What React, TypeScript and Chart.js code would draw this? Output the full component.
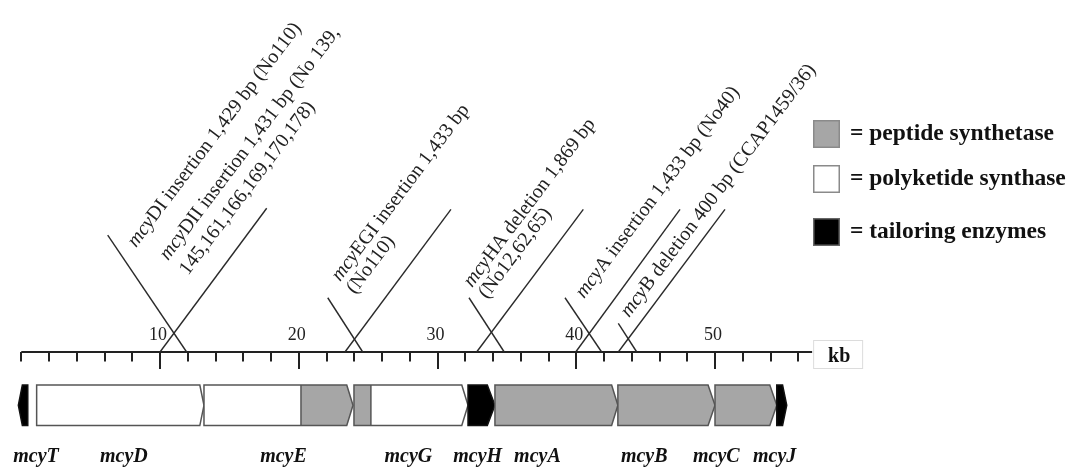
import React, { useEffect, useRef } from 'react';
import { Chart, registerables } from 'chart.js';

Chart.register(...registerables);

// ---------- data ----------
const tickValues = [0, 2, 4, 6, 8, 10, 12, 14, 16, 18, 20, 22, 24, 26, 28, 30, 32, 34, 36, 38, 40, 42, 44, 46, 48, 50, 52, 54, 56];
const majorTickValues = [10, 20, 30, 40, 50];
const majorTickLabels = ['10', '20', '30', '40', '50'];
const axisEndKb = 57;
const axisUnit = 'kb';

const geneNames = ['mcyT', 'mcyD', 'mcyE', 'mcyG', 'mcyH', 'mcyA', 'mcyB', 'mcyC', 'mcyJ'];
const geneStarts = [-0.21, 1.11, 13.17, 23.98, 32.2, 34.14, 43.0, 50.0, 54.45];
const geneEnds = [0.47, 13.17, 23.91, 32.2, 34.14, 43.0, 50.0, 54.45, 55.17];
const geneDirections = [-1, 1, 1, 1, 1, 1, 1, 1, 1];
const geneHeads = [0.29, 0.3, 0.45, 0.45, 0.55, 0.45, 0.5, 0.5, 0.3];
const geneFirstClass = ['tailoring', 'pks', 'pks', 'nrps', 'tailoring', 'nrps', 'nrps', 'nrps', 'tailoring'];
const geneSecondClass = ['tailoring', 'pks', 'nrps', 'pks', 'tailoring', 'nrps', 'nrps', 'nrps', 'tailoring'];
const geneSplits = [null, null, 20.16, 25.2, null, null, null, null, null];
const geneLabelKb = [1.06, 7.4, 18.9, 27.9, 32.9, 37.2, 44.9, 50.1, 54.3];

const legendClasses = ['nrps', 'pks', 'tailoring'];
const legendLabels = ['= peptide synthetase', '= polyketide synthase', '= tailoring enzymes'];

// marker lines: base on the axis (kb), tip (kb, height)
const markerBaseKb = [11.92, 10.0, 24.61, 23.33, 34.81, 32.82, 41.83, 39.96, 44.36, 43.03];
const markerTipKb = [6.23, 17.69, 22.09, 30.97, 32.27, 40.51, 39.19, 47.48, 43.03, 50.72];
const markerTipHeight = [8.43, 10.36, 3.91, 10.28, 3.91, 10.28, 3.91, 10.28, 2.07, 10.28];

// annotation text lines: italic prefix, roman rest, baseline start (kb, height)
const noteItalic = ['mcy', 'mcy', '', 'mcy', '', 'mcy', '', 'mcy', 'mcy'];
const noteRoman = [
  'DI insertion 1,429 bp (No110)',
  'DII insertion 1,431 bp (No 139,',
  '145,161,166,169,170,178)',
  'EGI insertion 1,433 bp',
  '(No110)',
  'HA deletion 1,869 bp',
  '(No12,62,65)',
  'A insertion 1,433 bp (No40)',
  'B deletion 400 bp (CCAP1459/36)',
];
const noteKb = [8.27, 10.58, 12.02, 22.97, 24.05, 32.49, 33.57, 40.56, 43.8];
const noteHeight = [7.5, 6.56, 5.48, 5.05, 4.13, 4.61, 3.78, 3.82, 2.45];

// ---------- styles / layout ----------
const FONT = '"Liberation Serif", "Times New Roman", serif';
const PX_PER_KB = 13.875;
const AXIS_X0 = 21.25;
const AXIS_Y = 352;
const W = 1068;
const H = 468;
const GENE_TOP = -2.38;
const GENE_BOTTOM = -5.3;
const GENE_LABEL_Y = -7.93;
const classFill: Record<string, string> = { nrps: '#a6a6a6', pks: '#ffffff', tailoring: '#000000' };
const classStroke: Record<string, string> = { nrps: '#555555', pks: '#555555', tailoring: '#111111' };
const NOTE_ANGLE = -53 * Math.PI / 180;

const diagramPlugin = {
  id: 'geneDiagram',
  afterDatasetsDraw(chart: any) {
    const ctx: CanvasRenderingContext2D = chart.ctx;
    const xs = chart.scales.x;
    const ys = chart.scales.y;
    const X = (v: number) => xs.getPixelForValue(v);
    const Y = (v: number) => ys.getPixelForValue(v);
    ctx.save();

    // ticks
    const y0 = Y(0);
    ctx.strokeStyle = '#222';
    ctx.lineWidth = 2;
    tickValues.forEach((t) => {
      const major = majorTickValues.includes(t);
      const px = Math.round(X(t));
      ctx.beginPath();
      ctx.moveTo(px, y0);
      ctx.lineTo(px, y0 + (major ? 17 : 9.5));
      ctx.stroke();
    });
    // tick labels
    ctx.fillStyle = '#222';
    ctx.font = `18px ${FONT}`;
    ctx.textAlign = 'center';
    ctx.textBaseline = 'alphabetic';
    majorTickValues.forEach((t, i) => {
      ctx.fillText(majorTickLabels[i], X(t) - 2, y0 - 12);
    });

    // kb box
    const bx = X(axisEndKb) + 1;
    ctx.strokeStyle = '#dcdcdc';
    ctx.lineWidth = 1;
    ctx.strokeRect(bx + 0.5, y0 - 11.5, 49, 28);
    ctx.fillStyle = '#111';
    ctx.font = `bold 20px ${FONT}`;
    ctx.fillText(axisUnit, bx + 26, y0 + 10);

    // genes
    const top = Y(GENE_TOP);
    const bot = Y(GENE_BOTTOM);
    const mid = (top + bot) / 2;
    geneNames.forEach((name, i) => {
      const s = X(geneStarts[i]);
      const e = X(geneEnds[i]);
      const hw = geneHeads[i] * PX_PER_KB;
      const path = new Path2D();
      if (geneDirections[i] > 0) {
        path.moveTo(s, top);
        path.lineTo(e - hw, top);
        path.lineTo(e, mid);
        path.lineTo(e - hw, bot);
        path.lineTo(s, bot);
      } else {
        path.moveTo(e, top);
        path.lineTo(s + hw, top);
        path.lineTo(s, mid);
        path.lineTo(s + hw, bot);
        path.lineTo(e, bot);
      }
      path.closePath();
      ctx.fillStyle = classFill[geneSecondClass[i]];
      ctx.fill(path);
      const split = geneSplits[i];
      if (split !== null) {
        const sp = X(split);
        ctx.save();
        ctx.clip(path);
        ctx.fillStyle = classFill[geneFirstClass[i]];
        ctx.fillRect(s - 2, top - 2, sp - s + 2, bot - top + 4);
        ctx.restore();
        ctx.strokeStyle = '#555';
        ctx.lineWidth = 1.5;
        ctx.beginPath();
        ctx.moveTo(sp, top);
        ctx.lineTo(sp, bot);
        ctx.stroke();
      }
      ctx.strokeStyle = classStroke[geneFirstClass[i]];
      ctx.lineWidth = 1.5;
      ctx.stroke(path);
    });

    // gene labels
    ctx.fillStyle = '#111';
    ctx.font = `italic bold 20px ${FONT}`;
    ctx.textAlign = 'center';
    ctx.textBaseline = 'alphabetic';
    geneNames.forEach((name, i) => {
      ctx.fillText(name, X(geneLabelKb[i]), Y(GENE_LABEL_Y));
    });

    // annotation texts
    ctx.fillStyle = '#222';
    ctx.textAlign = 'left';
    noteRoman.forEach((txt, i) => {
      ctx.save();
      ctx.translate(X(noteKb[i]), Y(noteHeight[i]));
      ctx.rotate(NOTE_ANGLE);
      let off = 0;
      if (noteItalic[i]) {
        ctx.font = `italic 20px ${FONT}`;
        ctx.fillText(noteItalic[i], 0, 0);
        off = ctx.measureText(noteItalic[i]).width;
      }
      ctx.font = `20px ${FONT}`;
      ctx.fillText(txt, off, 0);
      ctx.restore();
    });

    // legend
    const lx = 813;
    const ly = [120, 165, 218];
    legendClasses.forEach((c, i) => {
      ctx.fillStyle = classFill[c];
      ctx.fillRect(lx, ly[i], 27, 28);
      ctx.strokeStyle = c === 'tailoring' ? '#666' : '#8a8a8a';
      ctx.lineWidth = 1.5;
      ctx.strokeRect(lx + 0.75, ly[i] + 0.75, 25.5, 26.5);
      ctx.fillStyle = '#111';
      ctx.font = `bold 23.5px ${FONT}`;
      ctx.textAlign = 'left';
      ctx.textBaseline = 'middle';
      ctx.fillText(legendLabels[i], lx + 37, ly[i] + 14);
    });

    ctx.restore();
  },
};

export default function App() {
  const ref = useRef<HTMLCanvasElement | null>(null);
  useEffect(() => {
    document.body.style.margin = '0';
    const canvas = ref.current;
    if (!canvas) return;
    const xMin = -AXIS_X0 / PX_PER_KB;
    const xMax = xMin + W / PX_PER_KB;
    const yMax = AXIS_Y / PX_PER_KB;
    const yMin = yMax - H / PX_PER_KB;
    const lineSets: any[] = markerBaseKb.map((b, i) => ({
      type: 'scatter',
      data: [{ x: b, y: 0 }, { x: markerTipKb[i], y: markerTipHeight[i] }],
      showLine: true,
      borderColor: '#2a2a2a',
      borderWidth: 1.4,
      pointRadius: 0,
      fill: false,
    }));
    lineSets.push({
      type: 'scatter',
      data: [{ x: 0, y: 0 }, { x: axisEndKb, y: 0 }],
      showLine: true,
      borderColor: '#222',
      borderWidth: 2,
      pointRadius: 0,
      fill: false,
    });
    const chart = new Chart(canvas, {
      type: 'scatter',
      data: { datasets: lineSets },
      options: {
        animation: false,
        responsive: false,
        devicePixelRatio: 1,
        events: [],
        layout: { padding: 0 },
        plugins: { legend: { display: false }, tooltip: { enabled: false } },
        scales: {
          x: { type: 'linear', display: false, min: xMin, max: xMax },
          y: { type: 'linear', display: false, min: yMin, max: yMax },
        },
      },
      plugins: [diagramPlugin],
    } as any);
    return () => chart.destroy();
  }, []);
  return (
    <div style={{ width: W, height: H, background: '#fff' }}>
      <canvas ref={ref} width={W} height={H} style={{ display: 'block' }} />
    </div>
  );
}
